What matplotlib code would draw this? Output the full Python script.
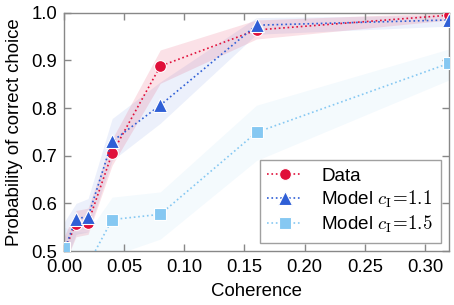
import matplotlib
matplotlib.use('Agg')
import matplotlib.pyplot as plt
import numpy as np

plt.rcParams['font.family'] = ['Liberation Sans', 'DejaVu Sans']
plt.rcParams['mathtext.fontset'] = 'cm'

# coherence levels
coh = [0.0, 0.01, 0.02, 0.04, 0.08, 0.16, 0.32]

# data and its band
data    = [0.500, 0.557, 0.559, 0.705, 0.888, 0.964, 0.995]
data_lo = [0.470, 0.530, 0.535, 0.680, 0.852, 0.945, 0.985]
data_hi = [0.530, 0.585, 0.590, 0.735, 0.922, 0.985, 1.000]

# model c_I = 1.1
m11    = [0.500, 0.568, 0.572, 0.730, 0.806, 0.974, 0.985]
m11_lo = [0.470, 0.535, 0.540, 0.690, 0.768, 0.955, 0.972]
m11_hi = [0.560, 0.600, 0.610, 0.778, 0.855, 0.990, 0.995]

# model c_I = 1.5
m15    = [0.507, 0.470, 0.472, 0.566, 0.577, 0.749, 0.894]
m15_lo = [0.470, 0.430, 0.430, 0.490, 0.525, 0.690, 0.859]
m15_hi = [0.550, 0.540, 0.540, 0.613, 0.624, 0.806, 0.924]

C_RED   = '#e0103a'
C_BLUE  = '#2f5fd6'
C_LBLUE = '#86c8f2'

fig = plt.figure(figsize=(4.54, 3.05), dpi=100)
ax = fig.add_axes([0.141, 0.177, 0.848, 0.781])

ax.fill_between(coh, m15_lo, m15_hi, color=C_LBLUE, alpha=0.09, lw=0)
ax.fill_between(coh, m11_lo, m11_hi, color=C_BLUE, alpha=0.09, lw=0)
ax.fill_between(coh, data_lo, data_hi, color=C_RED, alpha=0.12, lw=0)

ax.plot(coh, data, ls=':', lw=1.2, color=C_RED, marker='o', ms=8.5,
        mec='white', mew=0.8, label='Data', zorder=4)
ax.plot(coh, m11, ls=':', lw=1.2, color=C_BLUE, marker='^', ms=9.5,
        mec='white', mew=0.8, label=r'Model $c_{\mathrm{I}}\!=\!1.1$', zorder=5)
ax.plot(coh, m15, ls=':', lw=1.2, color=C_LBLUE, marker='s', ms=8.5,
        mec='white', mew=0.8, label=r'Model $c_{\mathrm{I}}\!=\!1.5$', zorder=6)

ax.set_xlim(0, 0.32)
ax.set_ylim(0.5, 1.0)
ax.set_xticks([0.0, 0.05, 0.10, 0.15, 0.20, 0.25, 0.30])
ax.set_xticklabels(['0.00', '0.05', '0.10', '0.15', '0.20', '0.25', '0.30'])
ax.set_yticks([0.5, 0.6, 0.7, 0.8, 0.9, 1.0])
ax.tick_params(direction='in', length=5, width=1, color='#888888',
               top=True, right=True, labelsize=13.3)
ax.tick_params(axis='x', pad=6)
ax.tick_params(axis='y', pad=5)
for sp in ax.spines.values():
    sp.set_color('#888888')
    sp.set_linewidth(1)

ax.set_xlabel('Coherence', fontsize=13.4, labelpad=5)
ax.set_ylabel('Probability of correct choice', fontsize=13.4, labelpad=6)

leg = ax.legend(loc='lower right', fontsize=13.6, frameon=True, fancybox=False,
                edgecolor='#888888', handlelength=1.85, borderpad=0.4,
                labelspacing=0.2, handletextpad=1.0, borderaxespad=0.45)
leg.get_frame().set_linewidth(1)

fig.savefig('out.png', dpi=100)
